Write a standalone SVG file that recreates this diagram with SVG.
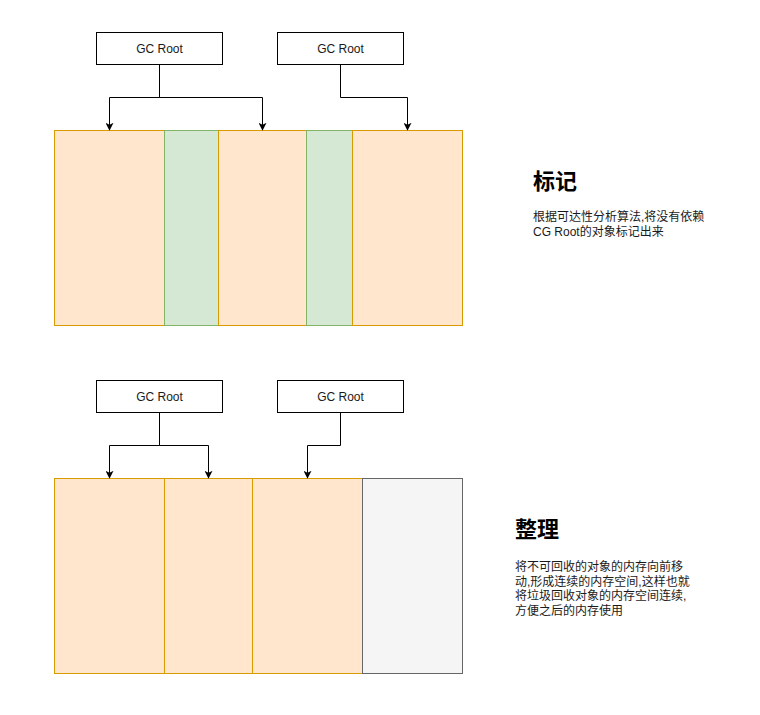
<svg xmlns="http://www.w3.org/2000/svg" width="760" height="715" viewBox="0 0 760 715">
<defs>
<marker id="arr" viewBox="0 0 10 10" refX="9" refY="5" markerWidth="8" markerHeight="8" markerUnits="userSpaceOnUse" orient="auto">
<path d="M0,0 L10,5 L0,10 L2.5,5 Z" fill="#000"/>
</marker>
<style>
.root{fill:#fff;stroke:#000;stroke-width:1}
.lbl{font-family:"Liberation Sans",Arial,sans-serif;font-size:12px;fill:#1a1a1a;text-anchor:middle}
.org{fill:#ffe6cc;stroke:#d79b00;stroke-width:1}
.grn{fill:#d5e8d4;stroke:#82b366;stroke-width:1}
.gry{fill:#f5f5f5;stroke:#666666;stroke-width:1}
.conn{fill:none;stroke:#000;stroke-width:1;marker-end:url(#arr)}
.title{font-family:"Liberation Sans","Noto Sans CJK SC",sans-serif;font-size:22px;font-weight:bold;fill:#000}
.body{font-family:"Liberation Sans","Noto Sans CJK SC",sans-serif;font-size:12px;fill:#1a1a1a}
</style>
</defs>
<rect width="760" height="715" fill="#fff"/>

<g id="top-memory">
<rect class="org" x="54.5" y="130.5" width="110" height="195"/>
<rect class="grn" x="164.5" y="130.5" width="54" height="195"/>
<rect class="org" x="218.5" y="130.5" width="88" height="195"/>
<rect class="grn" x="306.5" y="130.5" width="46" height="195"/>
<rect class="org" x="352.5" y="130.5" width="110" height="195"/>
</g>

<g id="bottom-memory">
<rect class="org" x="54.5" y="478.5" width="110" height="195"/>
<rect class="org" x="164.5" y="478.5" width="88" height="195"/>
<rect class="org" x="252.5" y="478.5" width="110" height="195"/>
<rect class="gry" x="362.5" y="478.5" width="100" height="195"/>
</g>

<g id="connectors">
<path class="conn" d="M159.5,64.5 V97.5 H109.5 V130"/>
<path class="conn" d="M159.5,64.5 V97.5 H262.5 V130"/>
<path class="conn" d="M340.5,64.5 V97.5 H407.5 V130"/>
<path class="conn" d="M159.5,412.5 V445.5 H109.5 V478"/>
<path class="conn" d="M159.5,412.5 V445.5 H208.5 V478"/>
<path class="conn" d="M340.5,412.5 V445.5 H307.5 V478"/>
</g>

<g id="root1">
<rect class="root" x="96.5" y="32.5" width="126" height="32"/>
<text class="lbl" x="159.5" y="52.5">GC Root</text>
</g>
<g id="root2">
<rect class="root" x="277.5" y="32.5" width="126" height="32"/>
<text class="lbl" x="340.5" y="52.5">GC Root</text>
</g>
<g id="root3">
<rect class="root" x="96.5" y="380.5" width="126" height="32"/>
<text class="lbl" x="159.5" y="400.5">GC Root</text>
</g>
<g id="root4">
<rect class="root" x="277.5" y="380.5" width="126" height="32"/>
<text class="lbl" x="340.5" y="400.5">GC Root</text>
</g>

<g id="mark-text">
<text class="title" x="533" y="189">标记</text>
<text class="body" x="533" y="221">根据可达性分析算法,将没有依赖</text>
<text class="body" x="533" y="236">CG Root的对象标记出来</text>
</g>

<g id="compact-text">
<text class="title" x="515" y="537">整理</text>
<text class="body" x="515" y="571">将不可回收的对象的内存向前移</text>
<text class="body" x="515" y="585.5">动,形成连续的内存空间,这样也就</text>
<text class="body" x="515" y="600">将垃圾回收对象的内存空间连续,</text>
<text class="body" x="515" y="614.5">方便之后的内存使用</text>
</g>
</svg>
